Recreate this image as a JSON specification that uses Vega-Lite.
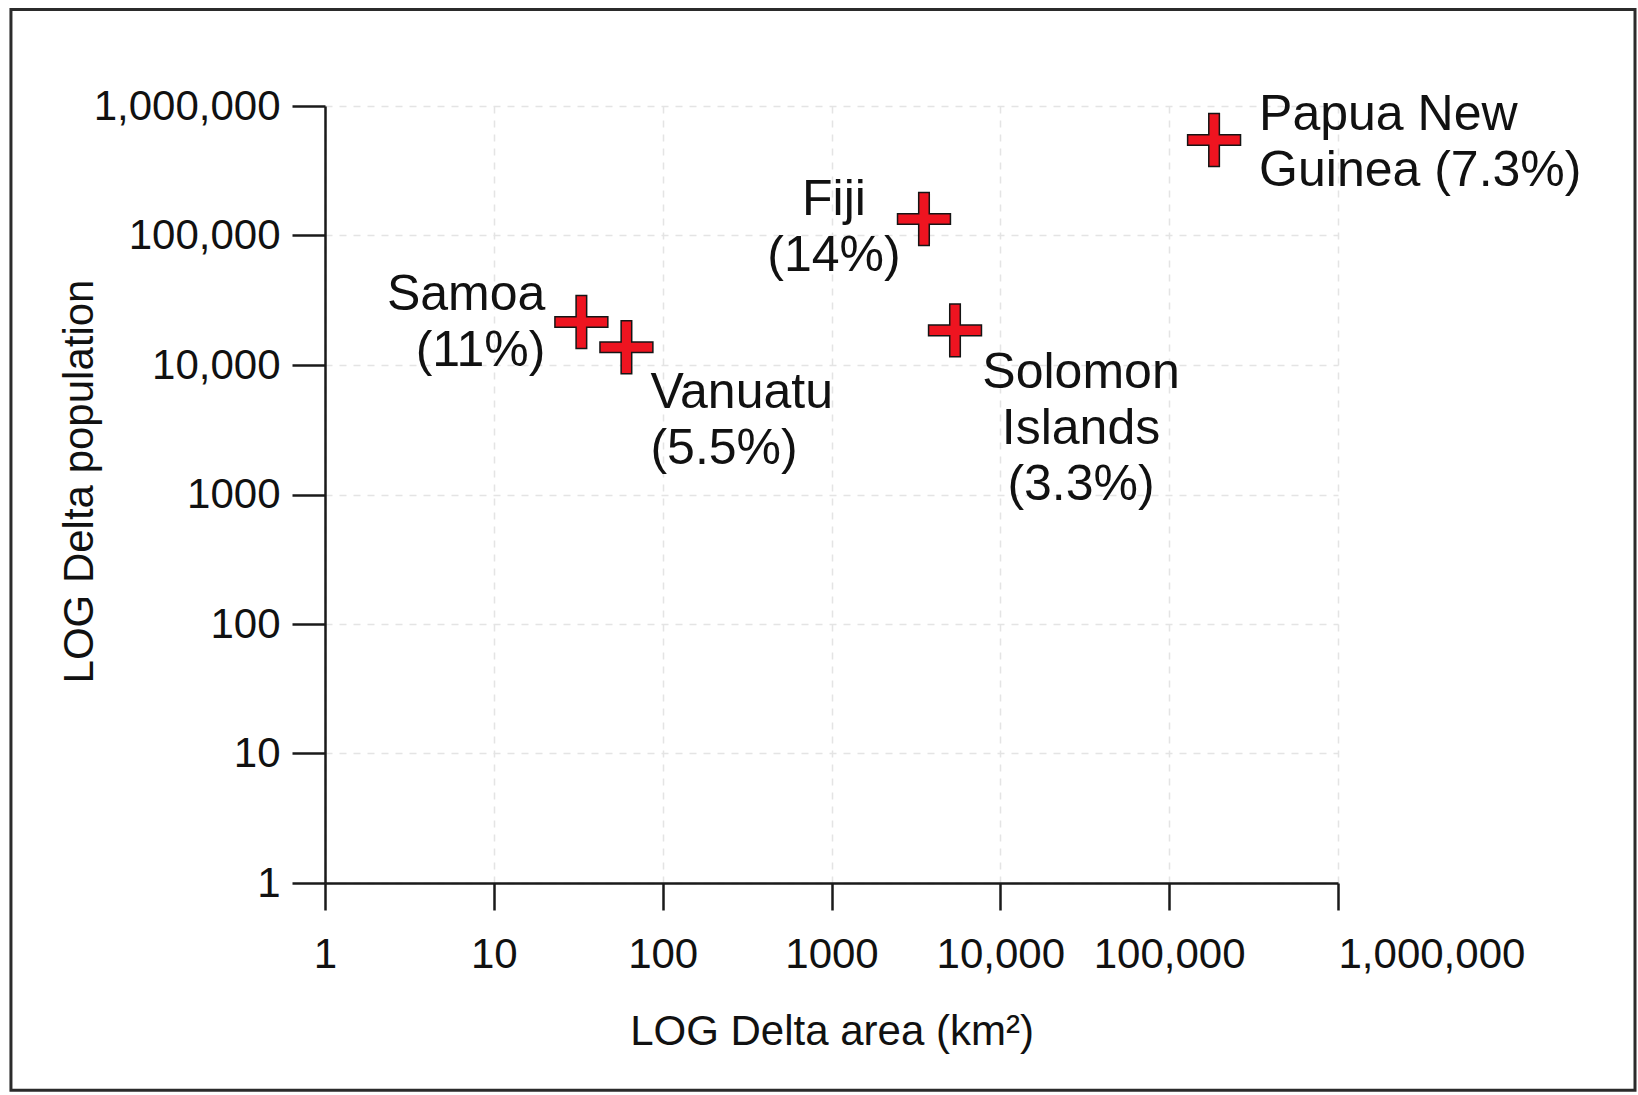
{
  "$schema": "https://vega.github.io/schema/vega-lite/v6.json",
  "width": 1013,
  "height": 777,
  "autosize": {"type": "none"},
  "padding": {"left": 325, "top": 106, "right": 300, "bottom": 212},
  "background": "white",
  "config": {
    "view": {"stroke": null},
    "font": "Liberation Sans",
    "text": {"font": "Liberation Sans"},
    "axis": {
      "labelFont": "Liberation Sans",
      "titleFont": "Liberation Sans",
      "labelFontSize": 42,
      "titleFontSize": 42,
      "titleFontWeight": "normal",
      "labelColor": "#111111",
      "titleColor": "#111111",
      "domainColor": "#1a1a1a",
      "domainWidth": 2.5,
      "tickColor": "#1a1a1a",
      "tickWidth": 2.5,
      "gridColor": "#e4e4e4",
      "gridDash": [7, 7],
      "gridWidth": 1.5,
      "labelFlush": false,
      "labelOverlap": false,
      "labelBound": false,
      "labelLimit": 0
    }
  },
  "data": {
    "values": [
      {"country": "Samoa", "area": 33, "population": 21500, "label": "Samoa\n(11%)"},
      {"country": "Vanuatu", "area": 61, "population": 13700, "label": "Vanuatu\n(5.5%)"},
      {"country": "Fiji", "area": 3530, "population": 134000, "label": "Fiji\n(14%)"},
      {"country": "Solomon Islands", "area": 5390, "population": 18500, "label": "Solomon\nIslands\n(3.3%)"},
      {"country": "Papua New Guinea", "area": 184500, "population": 546000, "label": "Papua New\nGuinea (7.3%)"}
    ]
  },
  "layer": [
    {
      "mark": {
        "type": "point",
        "shape": "M-0.2,-1H0.2V-0.2H1V0.2H0.2V1H-0.2V0.2H-1V-0.2H-0.2Z",
        "filled": true,
        "fill": "#ee1420",
        "stroke": "#151515",
        "strokeWidth": 1.5,
        "size": 2800,
        "opacity": 1
      },
      "encoding": {
        "x": {
          "field": "area",
          "type": "quantitative",
          "scale": {"type": "log", "domain": [1, 1000000], "nice": false},
          "axis": {
            "title": "LOG Delta area (km²)",
            "values": [1, 10, 100, 1000, 10000, 100000, 1000000],
            "labelExpr": "datum.value >= 10000 ? format(datum.value, ',') : format(datum.value, 'd')",
            "labelAlign": {"condition": {"test": "datum.value == 1000000", "value": "left"}, "value": "center"},
            "tickSize": 27,
            "labelPadding": 24,
            "titlePadding": 36,
            "grid": true
          }
        },
        "y": {
          "field": "population",
          "type": "quantitative",
          "scale": {"type": "log", "domain": [1, 1000000], "nice": false},
          "axis": {
            "title": "LOG Delta population",
            "values": [1, 10, 100, 1000, 10000, 100000, 1000000],
            "labelExpr": "datum.value >= 10000 ? format(datum.value, ',') : format(datum.value, 'd')",
            "tickSize": 33,
            "labelPadding": 12,
            "titlePadding": 24,
            "titleY": 375,
            "grid": true
          }
        }
      }
    },
    {
      "transform": [{"filter": "datum.country == 'Samoa'"}],
      "mark": {"type": "text", "align": "right", "baseline": "middle", "dx": -36, "dy": -27, "fontSize": 50, "lineHeight": 56, "lineBreak": "\n", "color": "#111111"},
      "encoding": {
        "x": {"field": "area", "type": "quantitative"},
        "y": {"field": "population", "type": "quantitative"},
        "text": {"field": "label"}
      }
    },
    {
      "transform": [{"filter": "datum.country == 'Vanuatu'"}],
      "mark": {"type": "text", "align": "left", "baseline": "middle", "dx": 24, "dy": 46, "fontSize": 50, "lineHeight": 56, "lineBreak": "\n", "color": "#111111"},
      "encoding": {
        "x": {"field": "area", "type": "quantitative"},
        "y": {"field": "population", "type": "quantitative"},
        "text": {"field": "label"}
      }
    },
    {
      "transform": [{"filter": "datum.country == 'Fiji'"}],
      "mark": {"type": "text", "align": "center", "baseline": "middle", "dx": -90, "dy": -19, "fontSize": 50, "lineHeight": 56, "lineBreak": "\n", "color": "#111111"},
      "encoding": {
        "x": {"field": "area", "type": "quantitative"},
        "y": {"field": "population", "type": "quantitative"},
        "text": {"field": "label"}
      }
    },
    {
      "transform": [{"filter": "datum.country == 'Solomon Islands'"}],
      "mark": {"type": "text", "align": "center", "baseline": "middle", "dx": 126, "dy": 43, "fontSize": 50, "lineHeight": 56, "lineBreak": "\n", "color": "#111111"},
      "encoding": {
        "x": {"field": "area", "type": "quantitative"},
        "y": {"field": "population", "type": "quantitative"},
        "text": {"field": "label"}
      }
    },
    {
      "transform": [{"filter": "datum.country == 'Papua New Guinea'"}],
      "mark": {"type": "text", "align": "left", "baseline": "middle", "dx": 45, "dy": -25, "fontSize": 50, "lineHeight": 56, "lineBreak": "\n", "color": "#111111"},
      "encoding": {
        "x": {"field": "area", "type": "quantitative"},
        "y": {"field": "population", "type": "quantitative"},
        "text": {"field": "label"}
      }
    },
    {
      "data": {"values": [{}]},
      "mark": {"type": "rect", "fill": null, "filled": false, "stroke": "#2b2b2b", "strokeWidth": 3, "clip": false},
      "encoding": {
        "x": {"datum": 0.0138, "type": "quantitative"},
        "x2": {"datum": 57430000},
        "y": {"datum": 5559000, "type": "quantitative"},
        "y2": {"datum": 0.0251}
      }
    }
  ]
}
